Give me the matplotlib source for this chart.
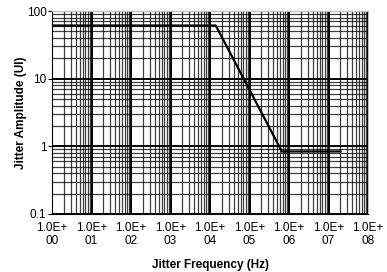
import matplotlib
matplotlib.use("Agg")
import matplotlib.pyplot as plt
import numpy as np

freq_hz = [1.0, 1.4e4, 6.6e5, 2.0e7]
amp_ui = [61.0, 61.0, 0.84, 0.84]
x_ticks = [1e0, 1e1, 1e2, 1e3, 1e4, 1e5, 1e6, 1e7, 1e8]
x_tick_labels = ["1.0E+\n00", "1.0E+\n01", "1.0E+\n02", "1.0E+\n03", "1.0E+\n04",
                 "1.0E+\n05", "1.0E+\n06", "1.0E+\n07", "1.0E+\n08"]
y_ticks = [0.1, 1, 10, 100]
y_tick_labels = ["0.1", "1", "10", "100"]

plt.rcParams['font.family'] = ['Liberation Sans', 'DejaVu Sans']

fig = plt.figure(figsize=(3.87, 2.72), dpi=100)
ax = fig.add_axes([52/387, 1-214/272, (368-52)/387, (214-11)/272])
ax.set_xscale('log')
ax.set_yscale('log')
ax.set_xlim(1, 1e8)
ax.set_ylim(0.1, 100)

ax.grid(True, which='major', color='black', linewidth=1.4)
ax.grid(True, which='minor', color='black', linewidth=0.9, alpha=0.75)
ax.xaxis.set_minor_locator(matplotlib.ticker.LogLocator(base=10, subs=np.arange(2, 10), numticks=20))
ax.yaxis.set_minor_locator(matplotlib.ticker.LogLocator(base=10, subs=np.arange(2, 10), numticks=20))
ax.xaxis.set_minor_formatter(matplotlib.ticker.NullFormatter())
ax.yaxis.set_minor_formatter(matplotlib.ticker.NullFormatter())

ax.plot(freq_hz, amp_ui, color='black', linewidth=1.6, zorder=5)

ax.set_xticks(x_ticks)
ax.set_xticklabels(x_tick_labels, fontsize=8.5, linespacing=1.05)
ax.set_yticks(y_ticks)
ax.set_yticklabels(y_tick_labels, fontsize=8.5)
ax.tick_params(axis='x', which='both', length=0, pad=6)
ax.tick_params(axis='y', which='major', length=3, width=0.8, pad=1)
ax.tick_params(axis='y', which='minor', length=0)

for s in ['top', 'right']:
    ax.spines[s].set_color('#bbbbbb')
for s in ['left', 'bottom']:
    ax.spines[s].set_color('black')

ax.set_xlabel('Jitter Frequency (Hz)', fontsize=8.5, fontweight='bold', labelpad=9)
ax.set_ylabel('Jitter Amplitude (UI)', fontsize=8.5, fontweight='bold', labelpad=0)

fig.savefig('out.png', dpi=100)
